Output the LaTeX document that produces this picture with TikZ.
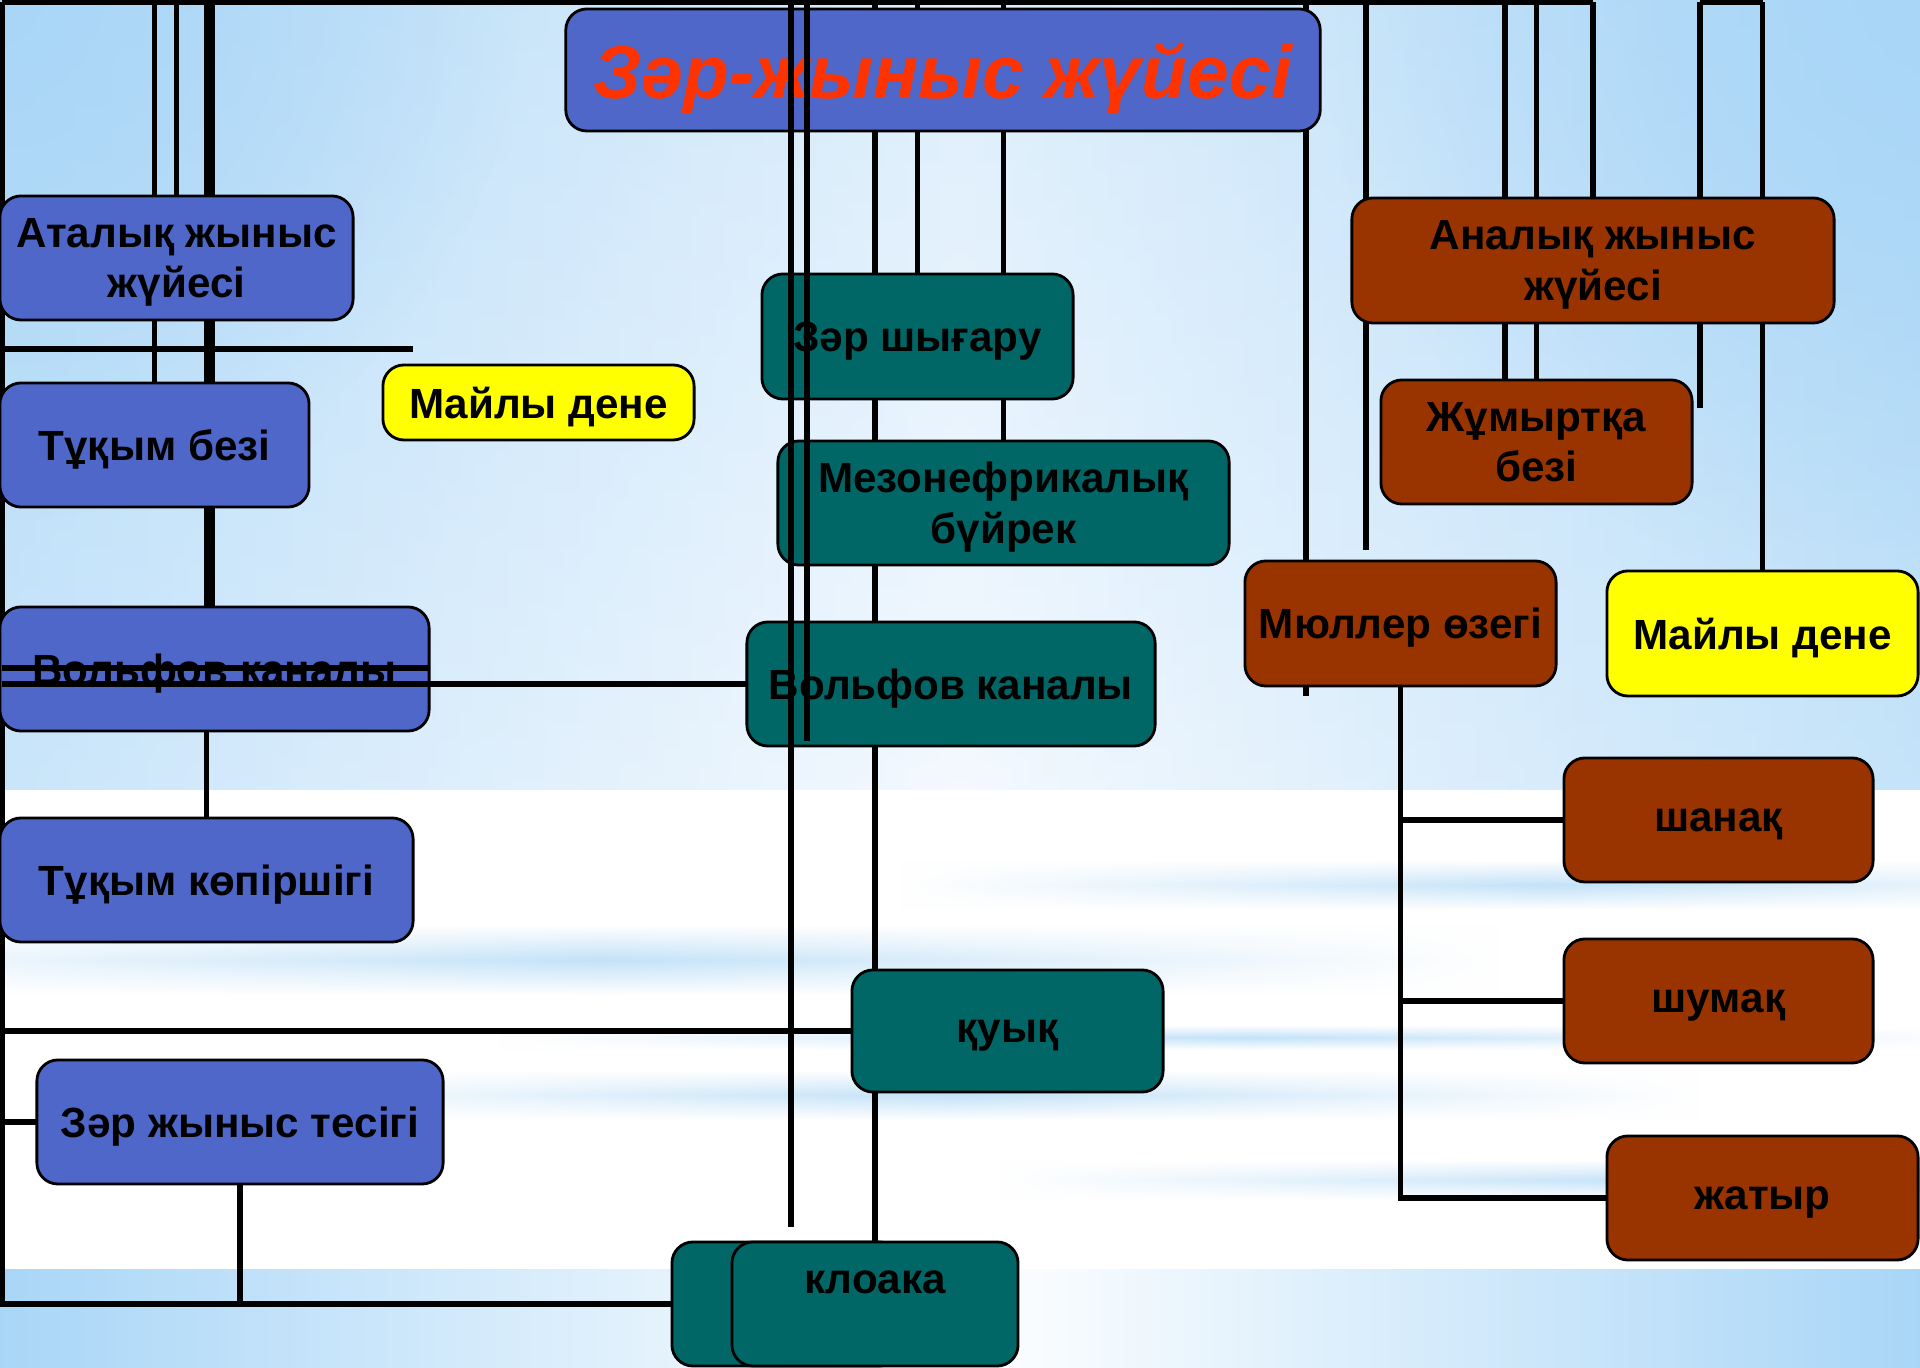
\documentclass[tikz,border=0pt]{standalone}
\usepackage{fontspec}
\setmainfont{Liberation Sans}
\usetikzlibrary{fadings}
\definecolor{bbox}{HTML}{4F67C8}
\definecolor{tbox}{HTML}{006666}
\definecolor{rbox}{HTML}{993300}
\definecolor{ybox}{HTML}{FFFF00}
\definecolor{ttl}{HTML}{FF3300}
\definecolor{skyA}{HTML}{A9D6F7}
\definecolor{skyB}{HTML}{CDE6FA}
\definecolor{skyC}{HTML}{F0F7FE}
\definecolor{streak}{HTML}{B9DDF7}
\tikzfading[name=glowfade, inner color=transparent!0, outer color=transparent!100]
\tikzfading[name=hfade, left color=transparent!100, right color=transparent!100, middle color=transparent!15]
\pgfdeclarelayer{bgimg}
\pgfdeclarelayer{lines}
\pgfdeclarelayer{over}
\pgfsetlayers{bgimg,lines,main,over}
\tikzset{
  card/.style={draw=black, line width=0.8pt, rounded corners=6pt, inner sep=0pt, outer sep=0pt,
    align=center, text depth=0pt, font=\bfseries\fontsize{12}{14.5}\selectfont, text=black},
  bluecard/.style={card, fill=bbox},
  tealcard/.style={card, fill=tbox},
  browncard/.style={card, fill=rbox},
  yellowcard/.style={card, fill=ybox},
  conn/.style={draw=black, line width=1.45pt},
}
\begin{document}
\begin{tikzpicture}[x=0.01cm, y=-0.01cm]
\useasboundingbox (0,0) rectangle (1920,1368);

% ---------- nodes ----------
\node[bluecard, minimum width=7.54cm, minimum height=1.22cm,
  font=\bfseries\itshape\fontsize{21.3}{25}\selectfont, text=ttl] (title) at (943,70) {Зәр-жыныс жүйесі};

\node[bluecard, minimum width=3.53cm, minimum height=1.24cm] (atal) at (176.5,258) {Аталық жыныс\\жүйесі};
\node[bluecard, minimum width=3.09cm, minimum height=1.24cm] (tukym) at (154.5,445) {Тұқым безі};
\node[yellowcard, minimum width=3.11cm, minimum height=0.75cm] (mayL) at (538.5,402.5) {Майлы дене};
\node[bluecard, minimum width=4.29cm, minimum height=1.24cm] (volfL) at (214.5,669) {Вольфов каналы};
\node[bluecard, minimum width=4.13cm, minimum height=1.24cm] (kopir) at (206.5,880) {Тұқым көпіршігі};
\node[bluecard, minimum width=4.06cm, minimum height=1.24cm] (tesik) at (240,1122) {Зәр жыныс тесігі};

\node[tealcard, minimum width=3.11cm, minimum height=1.25cm] (zar) at (917.5,336.5) {Зәр шығару};
\node[tealcard, minimum width=4.51cm, minimum height=1.24cm] (mezon) at (1003.5,503) {Мезонефрикалық\\бүйрек};
\node[tealcard, minimum width=4.08cm, minimum height=1.24cm] (volfC) at (951,684) {Вольфов каналы};
\node[tealcard, minimum width=3.11cm, minimum height=1.22cm] (kuyk) at (1007.5,1031) {қуық};
\node[tealcard, minimum width=2.28cm, minimum height=1.24cm] (kloakaB) at (786,1304) {};
\node[tealcard, minimum width=2.86cm, minimum height=1.24cm] (kloaka) at (875,1304) {};
\node[font=\bfseries\fontsize{12}{14.5}\selectfont, inner sep=0pt] (kloakaT) at (875,1282) {клоака};

\node[browncard, minimum width=4.82cm, minimum height=1.25cm] (anal) at (1593,260.5) {Аналық жыныс\\жүйесі};
\node[browncard, minimum width=3.11cm, minimum height=1.24cm] (zhum) at (1536.5,442) {Жұмыртқа\\безі};
\node[browncard, minimum width=3.11cm, minimum height=1.25cm] (muller) at (1400.5,623.5) {Мюллер өзегі};
\node[yellowcard, minimum width=3.11cm, minimum height=1.25cm] (mayR) at (1762.5,633.5) {Майлы дене};
\node[browncard, minimum width=3.09cm, minimum height=1.24cm] (shanak) at (1718.5,820) {шанақ};
\node[browncard, minimum width=3.09cm, minimum height=1.24cm] (shumak) at (1718.5,1001) {шумақ};
\node[browncard, minimum width=3.11cm, minimum height=1.24cm] (zhatyr) at (1762.5,1198) {жатыр};

% ---------- helper coordinates ----------
\coordinate (tl) at (2,2);
\coordinate (bl) at (2,1304);
\coordinate (x212) at (212,0);
\coordinate (x791) at (791,0);
\coordinate (x807) at (807,0);
\coordinate (x1306) at (1306,0);
\coordinate (x1366) at (1366,0);
\coordinate (x1505) at (1505,0);
\coordinate (x1700) at (1700,0);
\coordinate (e349) at (413,349);
\coordinate (e791) at (791,1227);
\coordinate (e807) at (807,741);
\coordinate (e1306) at (1306,696);
\coordinate (e1366) at (1366,550);
\coordinate (e1700) at (1700,408);
\coordinate (s668) at (429,668);

% ---------- background ----------
\begin{pgfonlayer}{bgimg}
\begin{scope}
\clip (0,0) rectangle (1920,1368);
\shade[left color=skyA!60!skyB, right color=skyA!75!skyB, middle color=skyC] (0,0) rectangle (1920,790);
\shade[top color=skyA, bottom color=white, opacity=0.25] (0,0) rectangle (1920,790);
\fill[skyA, path fading=glowfade] (0,0) circle (520);
\fill[skyA, path fading=glowfade] (1920,0) circle (600);
\fill[white] (0,790) rectangle (1920,1270);
\shade[top color=white, bottom color=white, middle color=streak, path fading=hfade] (-300,925) rectangle (1500,995);
\shade[top color=white, bottom color=white, middle color=streak, path fading=hfade] (200,1070) rectangle (1700,1120);
\shade[top color=white, bottom color=white, middle color=streak, path fading=hfade] (900,860) rectangle (2200,910);
\shade[top color=white, bottom color=white, middle color=streak, path fading=hfade] (500,1025) rectangle (2000,1050);
\shade[top color=white, bottom color=white, middle color=streak, path fading=hfade] (1000,1160) rectangle (2300,1200);
\shade[left color=skyA, right color=skyA, middle color=white] (0,1270) rectangle (1920,1368);
\end{scope}
\end{pgfonlayer}

% ---------- connectors behind the boxes ----------
\begin{pgfonlayer}{lines}
\draw[conn] (tl) -- (anal.north |- tl);
\draw[conn] (x1700 |- tl) -- (mayR.north |- tl);
\draw[conn] (tl) -- (bl) -- (kloakaB.west);
% left group
\draw[conn] (tukym.north |- tl) -- (atal.north -| tukym.north);
\draw[conn] (atal.south -| tukym.north) -- (tukym.north);
\draw[conn] (atal.north |- tl) -- (atal.north);
\draw[conn] (kopir.north |- tl) -- (atal.north -| kopir.north);
\draw[conn] (atal.south -| kopir.north) -- (tukym.north -| kopir.north);
\draw[conn] (tukym.south -| kopir.north) -- (volfL.north -| kopir.north);
\draw[conn] (volfL.south -| kopir.north) -- (kopir.north);
\draw[conn] (x212 |- tl) -- (atal.north -| x212);
\draw[conn] (atal.south -| x212) -- (tukym.north -| x212);
\draw[conn] (tukym.south -| x212) -- (volfL.north -| x212);
\draw[conn] (tl |- e349) -- (e349);
\draw[conn] (tl |- kuyk.west) -- (kuyk.west);
\draw[conn] (tl |- tesik.west) -- (tesik.west);
\draw[conn] (tesik.south) -- (tesik.south |- bl);
% centre group
\draw[conn] (kloaka.north |- tl) -- (kloaka.north);
\draw[conn] (zar.north |- tl) -- (zar.north);
\draw[conn] (mezon.north |- tl) -- (mezon.north);
% right group
\draw[conn] (x1306 |- tl) -- (e1306);
\draw[conn] (x1366 |- tl) -- (e1366);
\draw[conn] (x1505 |- tl) -- (zhum.north -| x1505);
\draw[conn] (zhum.north |- tl) -- (zhum.north);
\draw[conn] (anal.north |- tl) -- (anal.north);
\draw[conn] (x1700 |- tl) -- (e1700);
\draw[conn] (mayR.north |- tl) -- (mayR.north);
\draw[conn] (muller.south) -- (muller.south |- zhatyr.west) -- (zhatyr.west);
\draw[conn] (muller.south |- shanak.west) -- (shanak.west);
\draw[conn] (muller.south |- shumak.west) -- (shumak.west);
\end{pgfonlayer}

% ---------- connectors drawn over the boxes ----------
\begin{pgfonlayer}{over}
\draw[conn] (x791 |- tl) -- (e791);
\draw[conn] (x807 |- tl) -- (e807);
\draw[conn] (tl |- s668) -- (s668);
\draw[conn] (tl |- volfC.west) -- (volfC.west);
\end{pgfonlayer}
\end{tikzpicture}
\end{document}
